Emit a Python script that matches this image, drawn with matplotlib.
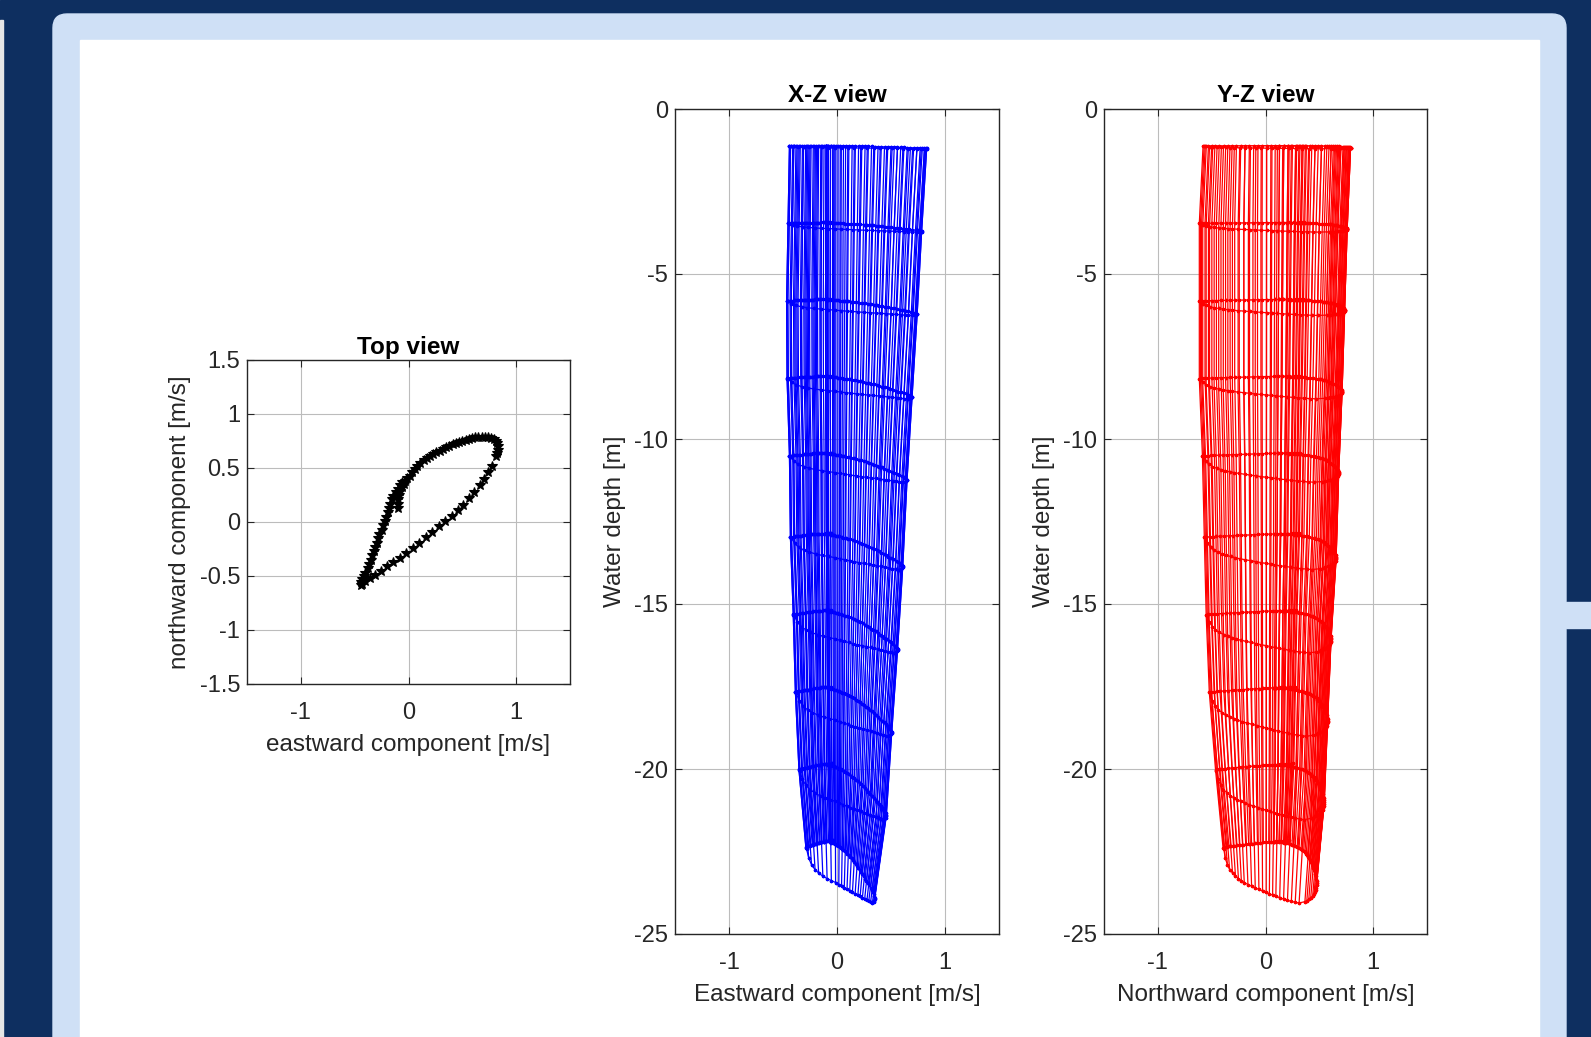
import numpy as np
import matplotlib.pyplot as plt
from matplotlib.patches import FancyBboxPatch, Rectangle
from matplotlib.ticker import FuncFormatter

# top-bin current over one tidal cycle, m/s
east_surface = [
    -0.10, -0.10, -0.10, -0.09, -0.08, -0.06, -0.04, -0.03, -0.01, 0.01,
    0.03, 0.06, 0.08, 0.11, 0.14, 0.17, 0.20, 0.23, 0.26, 0.29,
    0.32, 0.35, 0.38, 0.41, 0.44, 0.47, 0.50, 0.53, 0.56, 0.59,
    0.62, 0.65, 0.68, 0.71, 0.74, 0.77, 0.79, 0.81, 0.82, 0.83,
    0.83, 0.82, 0.81,
    0.78, 0.74, 0.70, 0.66, 0.61, 0.56, 0.51, 0.46, 0.40, 0.34,
    0.28, 0.22, 0.16, 0.10, 0.04, -0.02, -0.08, -0.14, -0.20, -0.26,
    -0.31, -0.36, -0.40, -0.43,
    -0.44, -0.44, -0.43, -0.41, -0.40, -0.38, -0.37, -0.35, -0.34, -0.32,
    -0.31, -0.29, -0.28, -0.27, -0.25, -0.24, -0.22, -0.21, -0.19, -0.18,
    -0.17, -0.15, -0.14, -0.12, -0.10, -0.08, -0.06,
]
north_surface = [
    0.13, 0.17, 0.21, 0.25, 0.29, 0.32, 0.35, 0.38, 0.41, 0.43,
    0.46, 0.49, 0.52, 0.55, 0.57, 0.59, 0.61, 0.63, 0.65, 0.66,
    0.68, 0.69, 0.70, 0.72, 0.73, 0.74, 0.75, 0.76, 0.77, 0.78,
    0.785, 0.79, 0.79, 0.79, 0.785, 0.78, 0.77, 0.75, 0.73, 0.70,
    0.67, 0.64, 0.61,
    0.52, 0.46, 0.40, 0.34, 0.28, 0.22, 0.16, 0.11, 0.06, 0.01,
    -0.04, -0.09, -0.14, -0.19, -0.24, -0.29, -0.33, -0.37, -0.41, -0.45,
    -0.49, -0.52, -0.55, -0.57,
    -0.58, -0.56, -0.53, -0.50, -0.47, -0.43, -0.39, -0.35, -0.31, -0.27,
    -0.23, -0.19, -0.15, -0.11, -0.07, -0.03, 0.01, 0.05, 0.09, 0.13,
    0.17, 0.21, 0.24, 0.28, 0.31, 0.34, 0.37,
]
# depth of the deepest bin at each profile, m
bed_depth = [
    -22.20, -22.20, -22.21, -22.22, -22.23, -22.24, -22.25, -22.27, -22.29, -22.31,
    -22.33, -22.36, -22.39, -22.42, -22.45, -22.49, -22.53, -22.57, -22.61, -22.66,
    -22.71, -22.76, -22.81, -22.87, -22.93, -22.99, -23.05, -23.11, -23.18, -23.25,
    -23.32, -23.39, -23.46, -23.53, -23.60, -23.67, -23.74, -23.80, -23.85, -23.90,
    -23.95, -23.99, -24.02,
    -24.06, -24.04, -24.01, -23.98, -23.94, -23.90, -23.86, -23.82, -23.78, -23.74,
    -23.70, -23.65, -23.60, -23.55, -23.50, -23.44, -23.38, -23.32, -23.25, -23.15,
    -23.05, -22.90, -22.70, -22.42,
    -22.38, -22.36, -22.35, -22.34, -22.33, -22.32, -22.31, -22.30, -22.29, -22.28,
    -22.27, -22.26, -22.25, -22.24, -22.23, -22.22, -22.21, -22.21, -22.20, -22.20,
    -22.19, -22.19, -22.18, -22.18, -22.17, -22.17, -22.16,
]
# relative bin positions (fraction of the bed depth)
sigma_level = [0.05, 0.155, 0.26, 0.365, 0.47, 0.58, 0.685, 0.79, 0.895, 1.0]
# velocity of each bin relative to the top bin
east_ratio_pos = [1.0, 0.944, 0.894, 0.837, 0.781, 0.733, 0.675, 0.61, 0.55, 0.42]
east_ratio_neg = [1.0, 1.03, 1.06, 1.05, 1.0, 0.98, 0.92, 0.875, 0.80, 0.655]
north_ratio_pos = [1.0, 0.96, 0.93, 0.90, 0.86, 0.83, 0.77, 0.73, 0.69, 0.60]
north_ratio_neg = [1.0, 1.06, 1.06, 1.06, 1.01, 0.98, 0.95, 0.90, 0.80, 0.68]

u_s = np.array(east_surface)[:, None]
v_s = np.array(north_surface)[:, None]
U = u_s * np.where(u_s >= 0, east_ratio_pos, east_ratio_neg)
V = v_s * np.where(v_s >= 0, north_ratio_pos, north_ratio_neg)
Z = np.array(bed_depth)[:, None] * np.array(sigma_level)[None, :]

plt.rcParams['font.family'] = ['Liberation Sans', 'DejaVu Sans']
plt.rcParams['font.size'] = 17.5
plt.rcParams['axes.unicode_minus'] = False

W, H = 1591, 1037
fig = plt.figure(figsize=(W / 100, H / 100), dpi=100)

# screenshot frame around the figure
bg = fig.add_axes([0, 0, 1, 1], zorder=-10)
bg.set_xlim(0, W)
bg.set_ylim(H, 0)
bg.axis('off')
bg.add_patch(Rectangle((0, 0), W, H, color='#0e2f60'))
bg.add_patch(Rectangle((0, 20), 3, H, color='#e6e6e6'))
bg.add_patch(FancyBboxPatch((53, 14), 1513, H + 40, boxstyle='round,pad=0,rounding_size=14',
                            color='#cfe0f6'))
bg.add_patch(Rectangle((1566, 602), 30, 26, color='#cfe0f6'))
bg.add_patch(Rectangle((80, 40), 1459, H, color='white'))

ink = '#262626'
fmt = FuncFormatter(lambda x, p: f'{x:g}')


def style(ax):
    ax.grid(True, color='#bcbcbc', lw=0.8)
    ax.set_axisbelow(True)
    ax.tick_params(direction='in', top=True, right=True, length=5, width=0.8,
                   colors=ink, labelsize=17)
    ax.tick_params(axis='x', pad=13)
    ax.tick_params(axis='y', pad=5)
    for s in ax.spines.values():
        s.set_color(ink)
        s.set_linewidth(1.0)
    ax.xaxis.set_major_formatter(fmt)
    ax.yaxis.set_major_formatter(fmt)


def px_box(left, top, right, bottom):
    return [left / W, 1 - bottom / H, (right - left) / W, (bottom - top) / H]


# top view
ax1 = fig.add_axes(px_box(247, 360, 570, 684))
ax1.plot(east_surface, north_surface, '*', color='k', ms=7, mew=0.8)
ax1.set_xlim(-1.5, 1.5)
ax1.set_ylim(-1.5, 1.5)
ax1.set_xticks([-1, 0, 1])
ax1.set_yticks([-1.5, -1, -0.5, 0, 0.5, 1, 1.5])
ax1.set_xlabel('eastward component [m/s]', color=ink, labelpad=7)
ax1.set_ylabel('northward component [m/s]', color=ink, labelpad=6)
ax1.set_title('Top view', fontweight='bold', fontsize=17.5, pad=4)
style(ax1)

# side views
for box, X, col, title, xlab in [
    ((675, 109, 999, 934), U, 'b', 'X-Z view', 'Eastward component [m/s]'),
    ((1104, 109, 1427, 934), V, 'r', 'Y-Z view', 'Northward component [m/s]'),
]:
    ax = fig.add_axes(px_box(*box))
    ax.plot(X.T, Z.T, '.-', color=col, lw=0.9, ms=3)
    ax.plot(X, Z, '.-', color=col, lw=0.9, ms=3)
    ax.set_xlim(-1.5, 1.5)
    ax.set_ylim(-25, 0)
    ax.set_xticks([-1, 0, 1])
    ax.set_yticks([-25, -20, -15, -10, -5, 0])
    ax.set_xlabel(xlab, color=ink, labelpad=7)
    ax.set_ylabel('Water depth [m]', color=ink, labelpad=6)
    ax.set_title(title, fontweight='bold', fontsize=17.5, pad=5)
    style(ax)

fig.savefig('out.png', dpi=100)
